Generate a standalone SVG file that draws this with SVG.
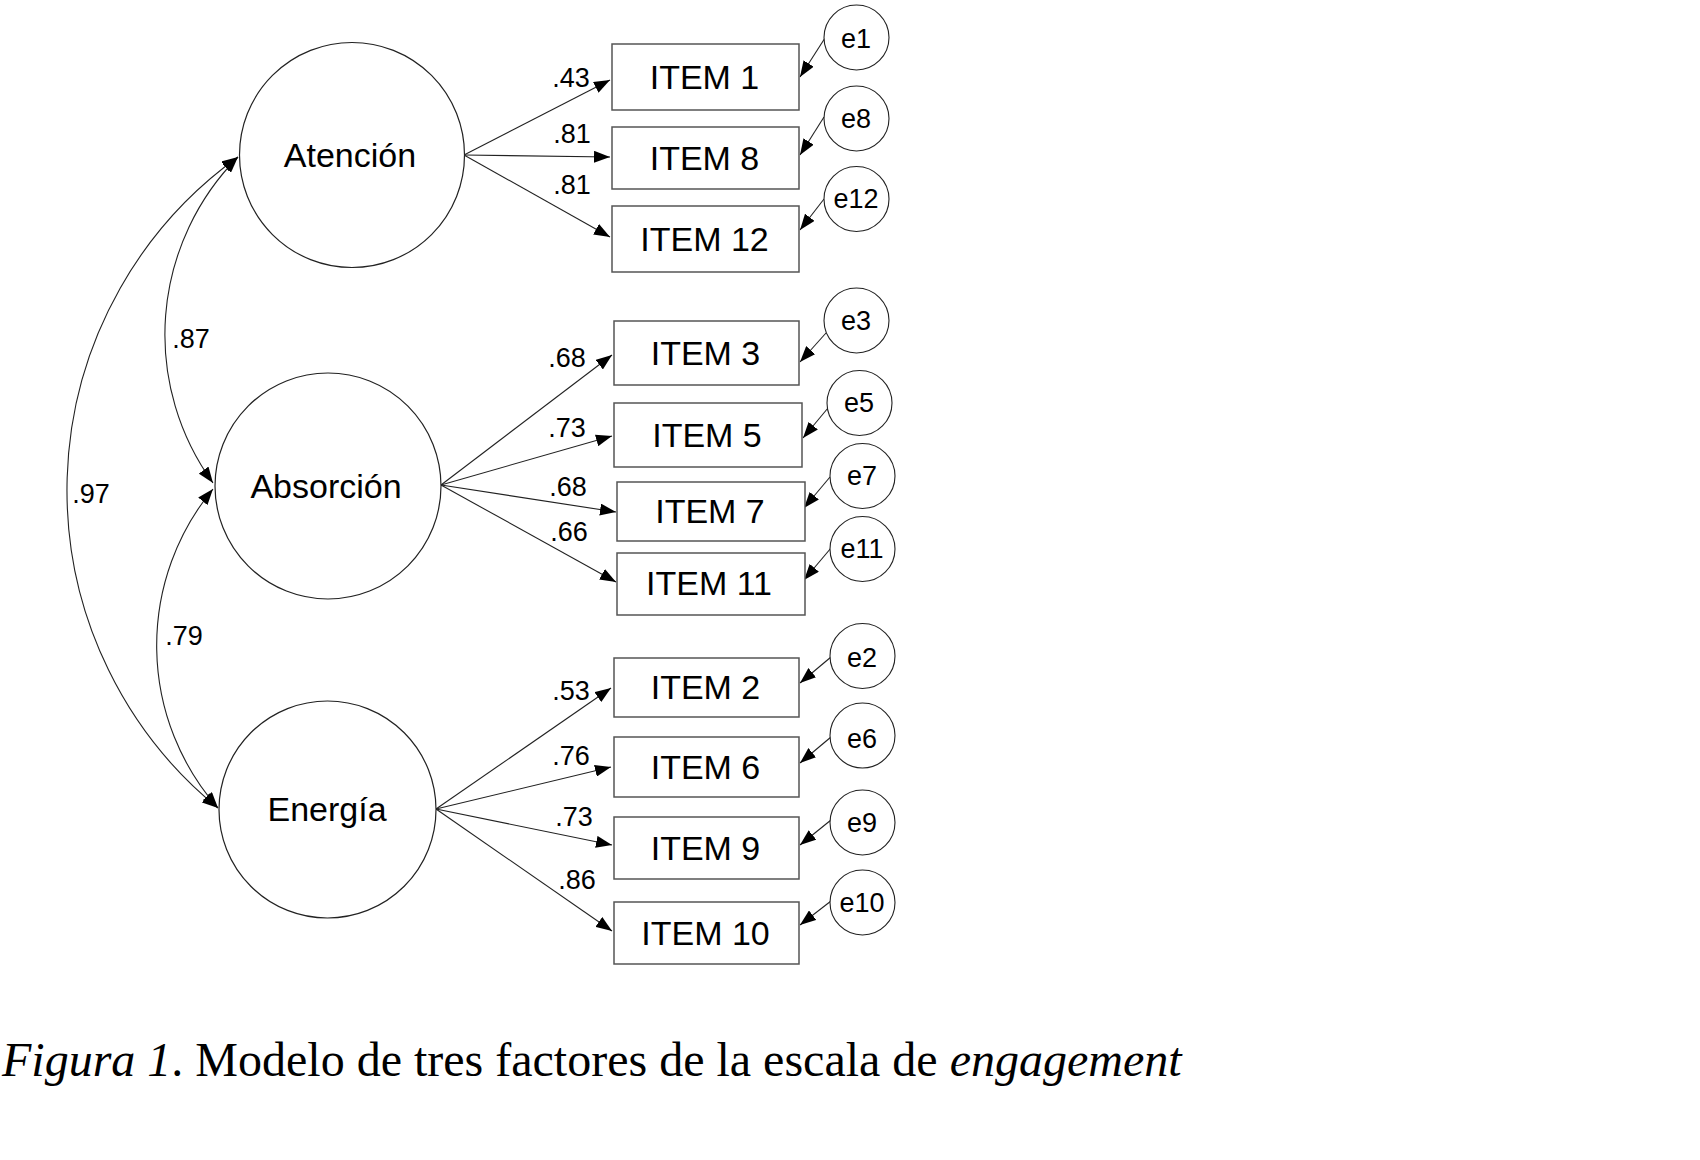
<svg xmlns="http://www.w3.org/2000/svg" width="1700" height="1160" viewBox="0 0 1700 1160">
<style>
.bg{fill:#ffffff}
.lat{fill:#ffffff;stroke:#222;stroke-width:1.2}
.err{fill:#ffffff;stroke:#222;stroke-width:1.1}
.box{fill:#ffffff;stroke:#555;stroke-width:1.5}
.ln{fill:none;stroke:#222;stroke-width:1.1}
.t{font-family:"Liberation Sans",Arial,sans-serif;fill:#000;text-anchor:middle}
.lt{font-size:34px}
.it{font-size:34px}
.et{font-size:27px}
.cf{font-size:27px}
.cap{font-family:"Liberation Serif","Times New Roman",serif;font-size:48px;fill:#000}
</style>
<defs>
<marker id="ah" markerUnits="userSpaceOnUse" markerWidth="16" markerHeight="12" refX="16" refY="6" orient="auto-start-reverse">
<path d="M0,0 L16,6 L0,12 z" fill="#000"/>
</marker>
</defs>
<rect class="bg" x="0" y="0" width="1700" height="1160"/>

<g id="connectors">
<path class="ln" d="M238,157 A410,410 0 0 0 218,808" marker-start="url(#ah)" marker-end="url(#ah)"/>
<path class="ln" d="M238,157 A252.6,252.6 0 0 0 213,483" marker-start="url(#ah)" marker-end="url(#ah)"/>
<path class="ln" d="M213,489 A245.8,245.8 0 0 0 218,808" marker-start="url(#ah)" marker-end="url(#ah)"/>
<path class="ln" d="M464,155 L610,80" marker-end="url(#ah)"/>
<path class="ln" d="M464,155 L610,157" marker-end="url(#ah)"/>
<path class="ln" d="M464,155 L610,237" marker-end="url(#ah)"/>
<path class="ln" d="M441,485 L612,355" marker-end="url(#ah)"/>
<path class="ln" d="M441,485 L612,436" marker-end="url(#ah)"/>
<path class="ln" d="M441,485 L616,512" marker-end="url(#ah)"/>
<path class="ln" d="M441,485 L616,582" marker-end="url(#ah)"/>
<path class="ln" d="M436,809 L611,688" marker-end="url(#ah)"/>
<path class="ln" d="M436,809 L611,767" marker-end="url(#ah)"/>
<path class="ln" d="M436,809 L612,845" marker-end="url(#ah)"/>
<path class="ln" d="M436,809 L612,931" marker-end="url(#ah)"/>
<path class="ln" d="M825,38 L800,77" marker-end="url(#ah)"/>
<path class="ln" d="M824,117 L800,155" marker-end="url(#ah)"/>
<path class="ln" d="M824,199 L800,230" marker-end="url(#ah)"/>
<path class="ln" d="M826,333 L800,362" marker-end="url(#ah)"/>
<path class="ln" d="M828,408 L803,438" marker-end="url(#ah)"/>
<path class="ln" d="M830,477 L804,508" marker-end="url(#ah)"/>
<path class="ln" d="M831,548 L804,580" marker-end="url(#ah)"/>
<path class="ln" d="M831,657 L800,683" marker-end="url(#ah)"/>
<path class="ln" d="M831,737 L800,763" marker-end="url(#ah)"/>
<path class="ln" d="M831,820 L800,845" marker-end="url(#ah)"/>
<path class="ln" d="M831,901 L800,925" marker-end="url(#ah)"/>
<text class="t cf" x="91" y="503">.97</text>
<text class="t cf" x="191" y="348">.87</text>
<text class="t cf" x="184" y="645">.79</text>
<text class="t cf" x="571" y="87">.43</text>
<text class="t cf" x="572" y="143">.81</text>
<text class="t cf" x="572" y="194">.81</text>
<text class="t cf" x="567" y="367">.68</text>
<text class="t cf" x="567" y="437">.73</text>
<text class="t cf" x="568" y="496">.68</text>
<text class="t cf" x="569" y="541">.66</text>
<text class="t cf" x="571" y="700">.53</text>
<text class="t cf" x="571" y="765">.76</text>
<text class="t cf" x="574" y="826">.73</text>
<text class="t cf" x="577" y="889">.86</text>
</g>

<g id="atencion"><circle class="lat" cx="352" cy="155" r="112.5"/><text class="t lt" x="350" y="167">Atención</text></g>
<g id="absorcion"><circle class="lat" cx="328" cy="486" r="113"/><text class="t lt" x="326" y="498">Absorción</text></g>
<g id="energia"><circle class="lat" cx="327.5" cy="809.5" r="108.5"/><text class="t lt" x="327" y="821">Energía</text></g>

<g id="item1"><rect class="box" x="612" y="44" width="187" height="66"/><text class="t it" x="704.5" y="89">ITEM 1</text></g>
<g id="item8"><rect class="box" x="612" y="127" width="187" height="62"/><text class="t it" x="704.5" y="170">ITEM 8</text></g>
<g id="item12"><rect class="box" x="612" y="206" width="187" height="66"/><text class="t it" x="704.5" y="251">ITEM 12</text></g>
<g id="item3"><rect class="box" x="614" y="321" width="185" height="64"/><text class="t it" x="705.5" y="365">ITEM 3</text></g>
<g id="item5"><rect class="box" x="614" y="403" width="188" height="64"/><text class="t it" x="707" y="447">ITEM 5</text></g>
<g id="item7"><rect class="box" x="617" y="482" width="188" height="59"/><text class="t it" x="710" y="523">ITEM 7</text></g>
<g id="item11"><rect class="box" x="617" y="553" width="188" height="62"/><text class="t it" x="709" y="595">ITEM 11</text></g>
<g id="item2"><rect class="box" x="614" y="658" width="185" height="59"/><text class="t it" x="705.5" y="699">ITEM 2</text></g>
<g id="item6"><rect class="box" x="614" y="737" width="185" height="60"/><text class="t it" x="705.5" y="779">ITEM 6</text></g>
<g id="item9"><rect class="box" x="614" y="817" width="185" height="62"/><text class="t it" x="705.5" y="860">ITEM 9</text></g>
<g id="item10"><rect class="box" x="614" y="902" width="185" height="62"/><text class="t it" x="705.5" y="945">ITEM 10</text></g>

<g id="e1"><circle class="err" cx="856.5" cy="37.5" r="32.5"/><text class="t et" x="856" y="48">e1</text></g>
<g id="e8"><circle class="err" cx="856.5" cy="118.5" r="32.5"/><text class="t et" x="856" y="128">e8</text></g>
<g id="e12"><circle class="err" cx="856.5" cy="199" r="32.5"/><text class="t et" x="856" y="208">e12</text></g>
<g id="e3"><circle class="err" cx="856.5" cy="320.5" r="32.5"/><text class="t et" x="856" y="330">e3</text></g>
<g id="e5"><circle class="err" cx="859.5" cy="403" r="32.5"/><text class="t et" x="859" y="412">e5</text></g>
<g id="e7"><circle class="err" cx="862.5" cy="476" r="32.5"/><text class="t et" x="862" y="485">e7</text></g>
<g id="e11"><circle class="err" cx="862.5" cy="549" r="32.5"/><text class="t et" x="862" y="558">e11</text></g>
<g id="e2"><circle class="err" cx="862.5" cy="656" r="32.5"/><text class="t et" x="862" y="667">e2</text></g>
<g id="e6"><circle class="err" cx="862.5" cy="735.5" r="32.5"/><text class="t et" x="862" y="748">e6</text></g>
<g id="e9"><circle class="err" cx="862.5" cy="822.5" r="32.5"/><text class="t et" x="862" y="832">e9</text></g>
<g id="e10"><circle class="err" cx="862.5" cy="902.5" r="32.5"/><text class="t et" x="862" y="912">e10</text></g>

<text class="cap" x="2" y="1076"><tspan font-style="italic">Figura 1</tspan>. Modelo de tres factores de la escala de <tspan font-style="italic">engagement</tspan></text>
</svg>
